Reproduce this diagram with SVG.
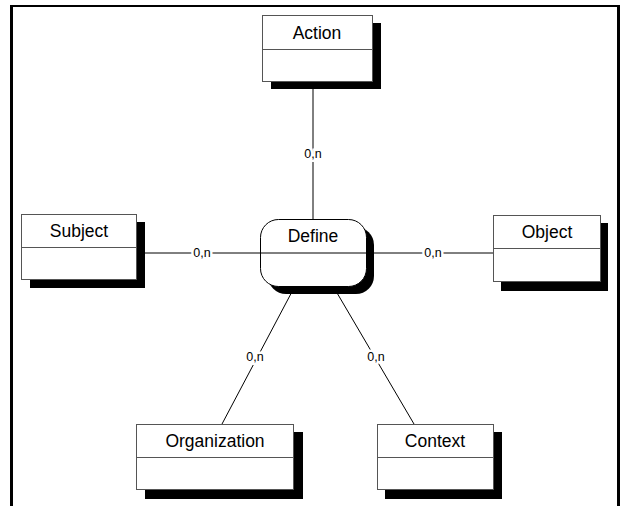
<svg xmlns="http://www.w3.org/2000/svg" width="624" height="506" viewBox="0 0 624 506">
<style>
.box{fill:#fff;stroke:#555;stroke-width:1}
.sh{fill:#000}
.div{stroke:#555;stroke-width:1}
.t{font-family:"Liberation Sans",Arial,sans-serif;font-size:17.5px;fill:#000;text-anchor:middle}
.lbl{font-family:"Liberation Sans",Arial,sans-serif;font-size:12.5px;fill:#000;text-anchor:middle;stroke:#fff;stroke-width:5;paint-order:stroke}
.c{stroke:#000;stroke-width:1;fill:none}
</style>
<rect width="624" height="506" fill="#fff"/>
<g id="frame" fill="#000">
<rect x="10" y="5" width="3" height="501"/>
<rect x="10" y="5" width="610" height="2"/>
<rect x="617" y="5" width="3" height="501"/>
</g>
<g id="connectors">
<line class="c" x1="313" y1="81" x2="313" y2="219"/>
<line class="c" x1="136" y1="253" x2="260" y2="253"/>
<line class="c" x1="366" y1="253" x2="493" y2="253"/>
<line class="c" x1="313" y1="252" x2="222" y2="424"/>
<line class="c" x1="313" y1="252" x2="414" y2="424"/>
<text class="lbl" x="313" y="158">0,n</text>
<text class="lbl" x="202" y="257">0,n</text>
<text class="lbl" x="433" y="257">0,n</text>
<text class="lbl" x="255" y="361">0,n</text>
<text class="lbl" x="376" y="361">0,n</text>
</g>
<g id="action">
<rect class="sh" x="271" y="23" width="110" height="66"/>
<rect class="box" x="262.5" y="15.5" width="110" height="66"/>
<line class="div" x1="262.5" y1="49.5" x2="372.5" y2="49.5"/>
<text class="t" x="317" y="39">Action</text>
</g>
<g id="subject">
<rect class="sh" x="30" y="222" width="115" height="66"/>
<rect class="box" x="21.5" y="214.5" width="115" height="65"/>
<line class="div" x1="21.5" y1="247.5" x2="136.5" y2="247.5"/>
<text class="t" x="79" y="237">Subject</text>
</g>
<g id="object">
<rect class="sh" x="501" y="223" width="107" height="68"/>
<rect class="box" x="493.5" y="215.5" width="107" height="66"/>
<line class="div" x1="493.5" y1="248.5" x2="600.5" y2="248.5"/>
<text class="t" x="547" y="238">Object</text>
</g>
<g id="define">
<rect class="sh" x="268" y="227" width="106" height="67" rx="18"/>
<rect class="box" x="260.5" y="219.5" width="106" height="67" rx="18" style="stroke:#000"/>
<line class="c" x1="260.5" y1="253" x2="366.5" y2="253"/>
<text class="t" x="313" y="242">Define</text>
</g>
<g id="organization">
<rect class="sh" x="145" y="432" width="158" height="67"/>
<rect class="box" x="136.5" y="424.5" width="157" height="65"/>
<line class="div" x1="136.5" y1="457.5" x2="293.5" y2="457.5"/>
<text class="t" x="215" y="447">Organization</text>
</g>
<g id="context">
<rect class="sh" x="385" y="432" width="117" height="67"/>
<rect class="box" x="377.5" y="424.5" width="116" height="65"/>
<line class="div" x1="377.5" y1="457.5" x2="493.5" y2="457.5"/>
<text class="t" x="435" y="447">Context</text>
</g>
</svg>
